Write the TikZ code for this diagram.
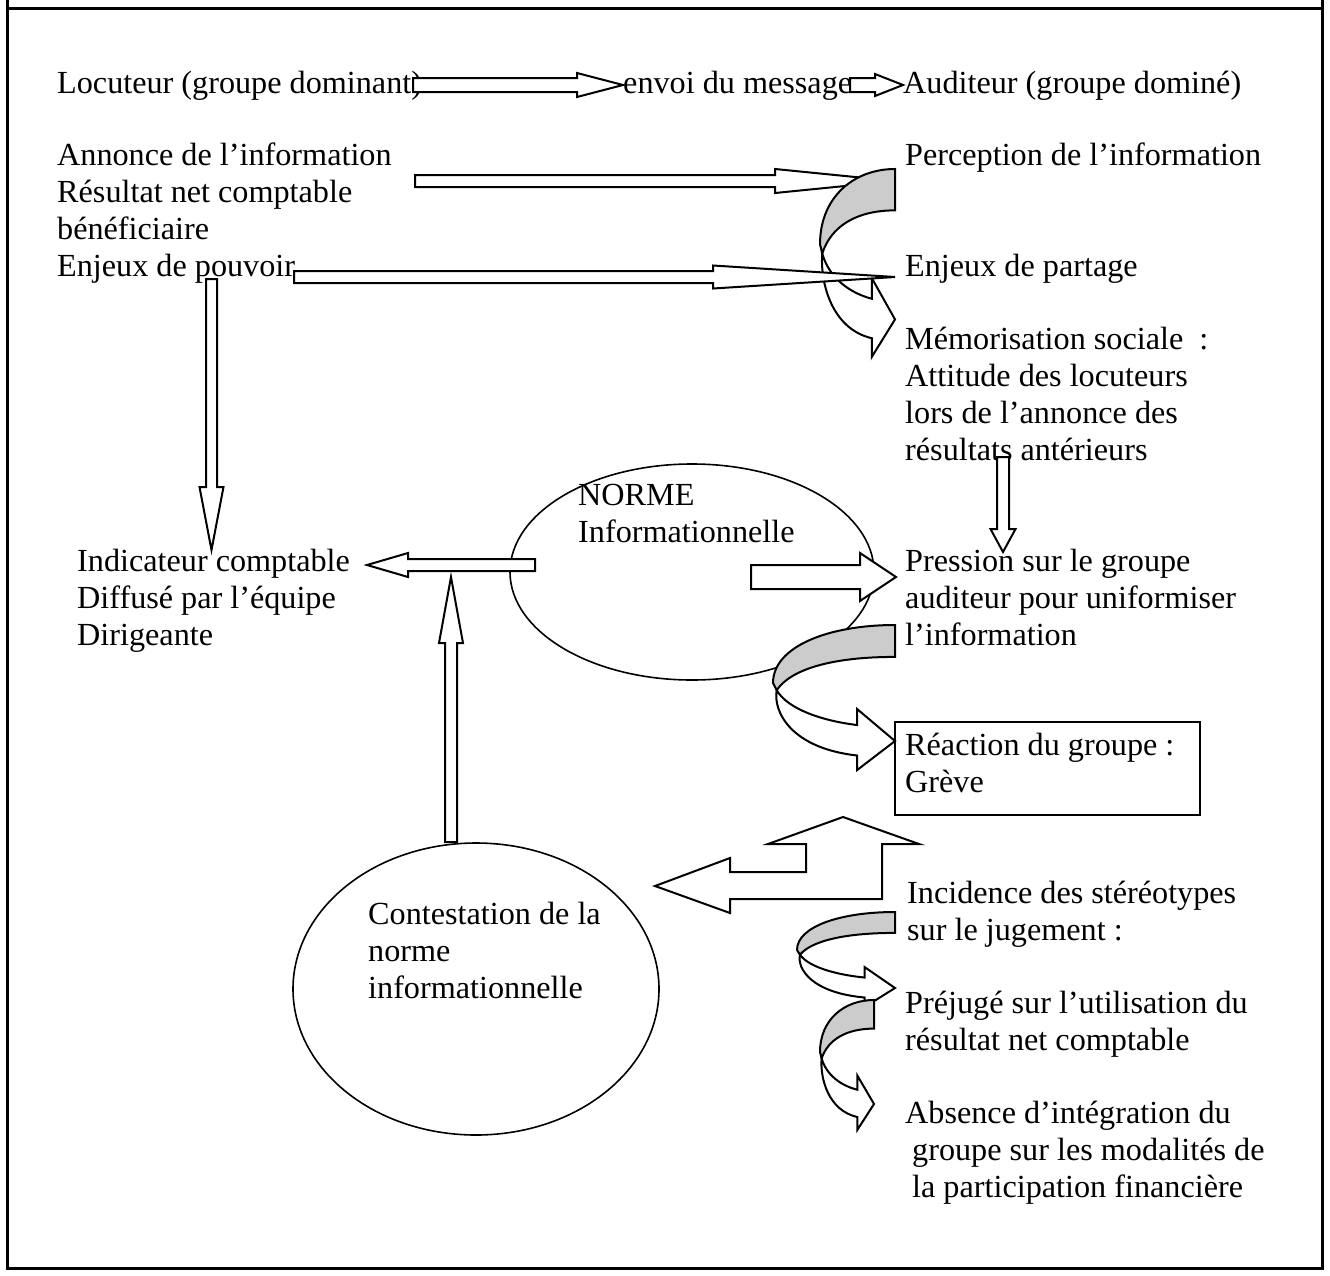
\documentclass[tikz,border=0pt]{standalone}
\usepackage{fontspec}
\setmainfont{Liberation Serif}
\usetikzlibrary{calc,shapes.geometric}
\definecolor{twistgray}{HTML}{CCCCCC}

% lines of text with the baseline of the first one
\newcommand\lines[1]{\begin{tabular}[t]{@{}l@{}}#1\end{tabular}}

% straight block arrow: tail, tip, half shaft, half head, head length
\newcommand\blockarrow[5]{%
  \path (#1) coordinate (ba) (#2) coordinate (bb) ($(bb)!#5pt!(ba)$) coordinate (bh);
  \draw[blockline] ($(ba)!#3pt!90:(bb)$) -- ($(bh)!#3pt!-90:(ba)$) -- ($(bh)!#4pt!-90:(ba)$)
    -- (bb) -- ($(bh)!#4pt!90:(ba)$) -- ($(bh)!#3pt!90:(ba)$) -- ($(ba)!#3pt!-90:(bb)$) -- cycle;}

% twisted arrow (grey top band, white underside): left x, top y, width, height
\newcommand\twistarrow[4]{%
  \begin{scope}[shift={(#1,#2)},xscale=#3,yscale=#4]
    \draw[blockline,fill=twistgray] (1,0) .. controls (0.45,0) and (0,0.15) .. (0,0.40)
      -- (0.03,0.45) .. controls (0.15,0.30) and (0.5,0.22) .. (1,0.22) -- cycle;
    \draw[blockline] (0.03,0.45) .. controls (0,0.6) and (0.15,0.85) .. (0.69,0.90)
      -- (0.69,1) -- (1,0.80) -- (0.69,0.58) -- (0.69,0.69)
      .. controls (0.4,0.66) and (0.12,0.58) .. cycle;
  \end{scope}}

\begin{document}
\begin{tikzpicture}[
  x=1pt, y=-1pt,
  txt/.style={anchor=base west, inner sep=0pt,
              font=\fontsize{32.2pt}{37pt}\selectfont},
  blockline/.style={draw=black, line width=2pt, fill=white, line join=miter},
  thinline/.style={draw=black, line width=1.6pt},
  oval/.style={ellipse, thinline, inner sep=0pt},
  frame/.style={line width=3pt}
]
  \useasboundingbox (0,0) rectangle (1330,1275);
  \draw[frame] (7,0) -- (7,1268) -- (1322,1268) -- (1322,0);
  \draw[frame] (7,8) -- (1322,8);

  % texts
  \node[txt] (loc)      at (57,93)    {Locuteur (groupe dominant)};
  \node[txt] (envoi)    at (623,93)   {envoi du message};
  \node[txt] (aud)      at (903,93)   {Auditeur (groupe dominé)};
  \node[txt] (annonce)  at (57,165)   {\lines{Annonce de l’information\\Résultat net comptable\\bénéficiaire\\Enjeux de pouvoir}};
  \node[txt] (percep)   at (905,165)  {Perception de l’information};
  \node[txt] (partage)  at (905,276)  {Enjeux de partage};
  \node[txt] (memo)     at (905,349)  {\lines{Mémorisation sociale~~:\\Attitude des locuteurs\\lors de l’annonce des\\résultats antérieurs}};
  \node[txt] (norme)    at (578,505)  {\lines{NORME\\Informationnelle}};
  \node[txt] (indic)    at (77,571)   {\lines{Indicateur comptable\\Diffusé par l’équipe\\Dirigeante}};
  \node[txt] (pression) at (905,571)  {\lines{Pression sur le groupe\\auditeur pour uniformiser\\l’information}};
  \node[txt] (reaction) at (905,755)  {\lines{Réaction du groupe :\\Grève}};
  \node[txt] (incid)    at (907,903)  {\lines{Incidence des stéréotypes\\sur le jugement :}};
  \node[txt] (prejuge)  at (905,1013) {\lines{Préjugé sur l’utilisation du\\résultat net comptable}};
  \node[txt] (absence)  at (905,1123) {\lines{Absence d’intégration du\\\hspace{7pt}groupe sur les modalités de\\\hspace{7pt}la participation financière}};
  \node[txt] (contest)  at (368,924)  {\lines{Contestation de la\\norme\\informationnelle}};

  % shapes
  \node[oval, minimum width=364pt, minimum height=216pt] (normeoval)   at (692,572) {};
  \node[oval, minimum width=366pt, minimum height=292pt] (contestoval) at (476,989) {};
  \draw[thinline] (895,722) rectangle (1200,815);

  % block arrows
  \blockarrow{413,85}{623,85}{7}{12}{46}
  \blockarrow{850,85}{903,85}{7}{11}{28}
  \blockarrow{415,181}{895,181}{6}{12}{120}
  \twistarrow{820}{169}{75}{188}
  \blockarrow{294,277}{895,277}{6}{11.5}{182}
  \blockarrow{211.5,279}{211.5,550}{5.5}{12}{63}
  \blockarrow{1003,457}{1003,552}{6}{12.5}{23}
  \blockarrow{535,565}{367,565}{6}{12}{41}
  \blockarrow{451,842}{451,577}{6}{12}{66}
  \blockarrow{751,577}{896,577}{12}{24}{36}
  \twistarrow{773}{625}{122}{145}
  \draw[blockline] (655,886) -- (730,858) -- (730,872) -- (806,872) -- (806,844) -- (768,844)
    -- (843,817) -- (919,844) -- (882,844) -- (882,899) -- (730,899) -- (730,913) -- cycle;
  \twistarrow{797}{912}{98}{95}
  \twistarrow{820}{1000}{54}{130}
\end{tikzpicture}
\end{document}
